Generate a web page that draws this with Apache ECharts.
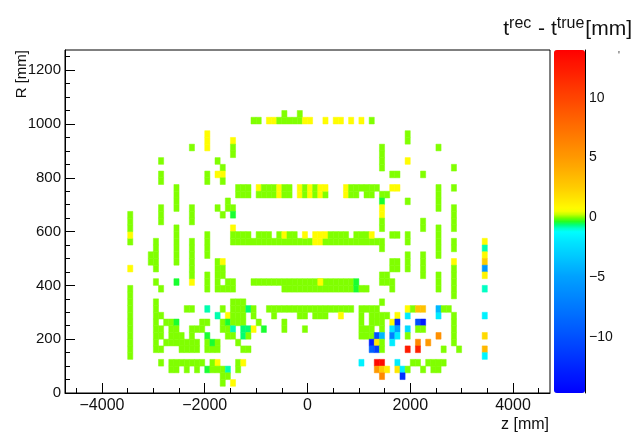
<!DOCTYPE html>
<html>
<head>
<meta charset="utf-8">
<script src="https://cdn.jsdelivr.net/npm/echarts@6/dist/echarts.min.js"></script>
<style>html,body{margin:0;padding:0;background:#fff}#c{width:634px;height:439px}</style>
</head>
<body>
<div id="c"></div>
<script>
// ---- axis ranges / ticks ----
const Z_MIN = -4720, Z_MAX = 4720;
const R_MIN = 0, R_MAX = 1275;
const V_MIN = -14.7, V_MAX = 14.0;
const Z_BIN = 100, R_BIN = 25;
const zMajorTicks = [-4000, -2000, 0, 2000, 4000];
const zMinorTicks = [-4500, -3500, -3000, -2500, -1500, -1000, -500, 500, 1000, 1500, 2500, 3000, 3500, 4500];
const rMajorTicks = [0, 200, 400, 600, 800, 1000, 1200];
const rMinorTicks = [50, 100, 150, 250, 300, 350, 450, 500, 550, 650, 700, 750, 850, 900, 950, 1050, 1100, 1150, 1250];
const colorTicks = [-10, -5, 0, 5, 10];

// ---- histogram contents: [zFrom, zTo, RFrom, RTo, value] (mm, mm, mm, mm, mm) ----
const topBar = [
  [-1100,-900,1000,1025,0],[-800,-600,1000,1025,0.7],[-600,-100,1000,1025,0],
  [-500,-400,1025,1050,0],[-200,-100,1025,1050,0],[-100,100,1000,1025,0.7],
  [300,400,1000,1025,0.7],[500,700,1000,1025,0.7],[800,900,1000,1025,0.7],
  [1000,1100,1000,1025,0.7],[1200,1300,1000,1025,0]
];
const upperLeft = [
  [-2300,-2200,900,925,0],[-2000,-1900,900,975,0.7],[-1500,-1400,925,950,0.7],
  [-1500,-1400,875,925,0],[-2900,-2800,850,875,0],[-2900,-2800,775,825,0],
  [-1800,-1700,850,875,0],[-1700,-1600,825,850,0],[-1800,-1600,800,825,0.7],
  [-1700,-1600,775,800,0],[-2000,-1900,775,825,0],[-2600,-2500,675,775,0],
  [-2900,-2800,625,700,0],[-2300,-2200,625,700,0],[-1600,-1500,700,725,0],
  [-1800,-1700,675,700,0],[-1700,-1600,650,675,0],[-1600,-1500,675,700,0],
  [-1500,-1400,675,700,0],[-1500,-1400,650,675,-0.4],[-1500,-1400,600,625,0.7],
  [-1500,-1400,550,600,0],[-3500,-3400,550,575,0],[-3500,-3400,575,600,0.7],
  [-3500,-3400,600,675,0]
];
const shelf800 = [
  [-1400,-1100,725,775,0],[-1000,-900,750,775,0.7],[-1000,-900,725,750,0],
  [-900,-600,725,775,0],[-600,-500,725,775,0.7],[-500,-300,725,775,0],
  [-200,-100,725,775,0.7],[-100,0,725,775,0],[0,100,725,775,0.7],
  [100,200,725,775,0],[200,300,725,775,0.7],[300,400,725,750,0],
  [300,400,750,775,0.7],[700,800,725,775,0.7],[800,1400,750,775,0],
  [800,1000,725,750,0],[1100,1300,725,750,0]
];
const shelf600 = [
  [-1400,100,550,575,0],[100,300,550,575,0.7],[300,1400,550,575,0],
  [-1400,-1100,575,600,0],[-1000,-700,575,600,0],[-600,-500,575,600,0],
  [-500,-400,575,600,0.7],[-400,-200,575,600,0],[-100,0,575,600,0.7],
  [100,400,575,600,0.7],[400,800,575,600,0],[900,1200,575,600,0],
  [1200,1300,575,600,0.7]
];
const shelf400 = [
  [-1100,-100,400,425,0],[-500,900,375,400,0],[-100,900,400,425,0],
  [200,300,400,425,0.7],[900,1000,375,425,-0.4],[1000,1200,375,400,0]
];
const shelf300 = [
  [-800,900,300,325,0],[1000,1400,300,325,0],[1400,1500,325,350,0],
  [-700,-600,275,300,0],[-200,0,275,300,0],[100,400,275,300,0],
  [600,700,275,300,0.7],[1000,1100,275,300,0],[1200,1600,275,300,0],
  [-1000,-900,250,275,0],[-500,-400,225,275,0],[-100,0,225,250,0]
];
const leftMiddle = [
  [-1800,-1400,375,400,0],[-1800,-1700,400,425,0],[-1600,-1400,400,425,0],
  [-2000,-1900,375,450,0],[-2300,-2200,400,425,0.7],[-2300,-2200,425,575,0],
  [-2600,-2500,400,425,-0.4],[-2600,-2500,475,625,0],[-3000,-2900,400,425,0],
  [-3000,-2900,450,575,0],[-3100,-3000,475,525,0],[-2900,-2800,375,400,0],
  [-3500,-3400,450,475,0.7],[-3500,-3400,125,400,0],[-1800,-1700,425,500,0],
  [-1700,-1600,475,500,0.7],[-1700,-1600,425,475,0],[-2000,-1900,500,600,0]
];
const lowerLeft = [
  [-3000,-2900,150,350,0],[-2900,-2800,275,300,0],[-2900,-2800,200,250,0],
  [-2900,-2800,150,175,0],[-2900,-2800,100,125,0],[-2800,-2700,250,275,0],
  [-2800,-2700,175,200,0],[-2700,-2600,175,275,0],[-2700,-2600,75,125,0],
  [-2600,-2500,250,275,-0.4],[-2600,-2500,175,250,0],[-2600,-2500,75,125,0],
  [-2500,-2400,150,225,0],[-2500,-2400,100,125,0],[-2400,-2300,300,325,0],
  [-2400,-2300,150,200,0],[-2400,-2300,75,125,0],[-2300,-2200,300,325,0],
  [-2300,-2200,150,250,0],[-2300,-2200,100,125,0],[-2200,-2100,225,250,0],
  [-2200,-2100,150,200,0],[-2200,-2100,75,125,0],[-2100,-2000,225,275,0],
  [-2100,-2000,100,125,0],[-2000,-1900,250,275,0],[-2000,-1900,300,325,-0.8],
  [-2000,-1900,200,225,-0.4],[-2000,-1900,150,200,0],[-2000,-1900,75,100,-0.4],
  [-1900,-1800,150,175,0],[-1900,-1800,175,200,-0.4],[-1900,-1800,75,125,0],
  [-1800,-1700,275,300,-0.8],[-1800,-1700,150,200,0],[-1800,-1700,100,125,0.7],
  [-1800,-1700,75,100,0],[-1700,-1600,300,325,0],[-1700,-1600,225,275,0],
  [-1700,-1600,50,100,0],[-1700,-1600,25,50,0],[-1600,-1500,275,300,0.7],
  [-1600,-1500,250,275,-0.4],[-1600,-1500,200,250,0],[-1600,-1500,75,100,-0.8],
  [-1600,-1500,50,75,0],[-1500,-1400,275,350,0],[-1500,-1400,250,275,0],
  [-1500,-1400,225,250,-0.8],[-1500,-1400,200,225,0],[-1500,-1400,25,50,0.7],
  [-1400,-1300,250,350,0],[-1400,-1300,175,200,0],[-1400,-1300,75,125,0],
  [-1300,-1200,250,350,0],[-1300,-1200,200,250,-0.6],[-1300,-1200,150,175,0],
  [-1300,-1200,100,125,0.7],[-1200,-1100,300,325,-0.6],[-1200,-1100,225,250,-0.6],
  [-1200,-1100,200,225,0],[-1200,-1100,150,175,0],[-1100,-1000,275,325,0],
  [-1100,-1000,225,250,0.7],[-900,-800,225,250,-0.4]
];
const upperRight = [
  [1900,2000,925,975,0],[1400,1500,825,925,0],[1600,1800,800,825,0],
  [1900,2000,850,875,0.7],[2500,2600,900,925,0],[2200,2300,800,825,0],
  [2800,2900,825,850,0],[2800,2900,750,775,0],[1600,1800,750,775,0.7],
  [1400,1600,725,750,0],[1400,1500,700,725,-0.4],[1400,1500,650,700,0.7],
  [1400,1500,600,650,0],[1400,1500,525,575,0],[1900,2000,700,725,0],
  [2500,2600,675,775,0],[2800,2900,600,700,0],[2200,2300,600,650,0],
  [1600,1800,575,600,0],[1900,2000,550,600,0],[2500,2600,550,625,0],
  [2800,2900,525,575,0]
];
const rightMiddle = [
  [1600,1800,450,500,0],[2200,2300,425,525,0],[2500,2600,500,550,0],
  [2500,2600,375,450,0],[1900,2000,450,525,0],[2800,2900,475,500,0.7],
  [2800,2900,350,475,0],[1400,1600,400,450,0],[1600,1700,375,425,0],
  [2800,2900,175,300,0],[2900,3000,150,175,0]
];
const lowerRight = [
  [1700,1800,275,300,0.7],[1900,2000,275,300,-1.8],[2500,2600,275,300,-1.8],
  [1900,2000,300,325,0.7],[2000,2100,300,325,0],[2100,2300,300,325,3],
  [2500,2600,300,325,-4],[2600,2800,300,325,0],
  [1000,1100,250,275,0],[1200,1500,250,275,0],[1600,1700,250,275,0.7],
  [1700,1800,250,275,-12],[2100,2200,250,275,-10],[2200,2300,250,275,-13],
  [1000,1300,225,250,0],[1400,1500,225,250,0],[1600,1700,225,250,-2],
  [1700,1800,225,250,-5],[1900,2000,225,250,-2.5],[2100,2300,225,250,0],
  [1000,1300,200,225,0],[1300,1400,200,225,-10],[1400,1500,200,225,-4],
  [1600,1700,200,225,-7],[1700,1800,200,225,-1.8],[1900,2000,200,225,0],
  [2500,2600,200,225,5.5],
  [1200,1300,175,200,-13],[1300,1400,175,200,1.5],[1400,1500,175,200,0],
  [1600,1700,175,200,-1.8],[2100,2200,175,200,6],[2300,2400,175,200,5],
  [1200,1300,150,175,-9],[1300,1400,150,175,-11],[1400,1500,150,175,0],
  [1900,2000,150,175,12.5],[2100,2200,150,175,12],[2600,2700,150,175,0],
  [1000,1100,100,125,-1.6],[1300,1500,100,125,13.5],[1700,1800,100,125,-1.8],
  [2000,2200,100,125,0],[2300,2700,100,125,0],
  [1300,1400,75,100,5],[1400,1500,75,100,2.5],[1500,1600,75,100,1.2],
  [1700,1800,75,100,1.5],[1800,1900,75,100,-1.8],[1900,2000,75,100,0],
  [2200,2300,75,100,0],[2400,2600,75,100,0],
  [1400,1500,50,75,6],[1800,1900,50,75,-12]
];
const outerRight = [
  [3400,3500,550,575,0.7],[3400,3500,525,550,-0.8],[3400,3500,500,525,0.8],
  [3400,3500,475,500,2.5],[3400,3500,450,475,-5.5],[3400,3500,425,450,1],
  [3400,3500,375,400,-0.9],[3400,3500,275,300,-1.6],[3400,3500,200,225,2],
  [3400,3500,150,175,3.5],[3400,3500,125,150,-1.5]
];

// ---- palette (ROOT-like rainbow) ----
const paletteStops = [
  [-14.7,'#0000ff'],[-10,'#0050ff'],[-5,'#00a0ff'],[-2,'#00e6ff'],[-1.2,'#00ffff'],
  [-0.8,'#00ffb0'],[-0.5,'#00ff50'],[-0.25,'#40ff00'],[0,'#80ff00'],[0.3,'#d8ff00'],
  [0.6,'#ffff00'],[2.5,'#ffcc00'],[5,'#ff9900'],[10,'#ff4400'],[14,'#ff0000']
];
function hex2rgb(h){return [parseInt(h.substr(1,2),16),parseInt(h.substr(3,2),16),parseInt(h.substr(5,2),16)];}
function colorAt(v){
  for (let i=0;i<paletteStops.length-1;i++){
    const a=paletteStops[i], b=paletteStops[i+1];
    if (v<=b[0]){const t=Math.max(0,(v-a[0])/(b[0]-a[0]));const ca=hex2rgb(a[1]),cb=hex2rgb(b[1]);
      return 'rgb('+ca.map((c,k)=>Math.round(c+(cb[k]-c)*t)).join(',')+')';}
  }
  return paletteStops[paletteStops.length-1][1];
}
const NCOL = 400, paletteColors = [];
for (let i=0;i<NCOL;i++) paletteColors.push(colorAt(V_MIN+(V_MAX-V_MIN)*i/(NCOL-1)));

// ---- expand blocks into histogram bins ----
const cells = [];
[topBar, upperLeft, shelf800, shelf600, shelf400, shelf300, leftMiddle, lowerLeft, upperRight, rightMiddle, lowerRight, outerRight].forEach(list => {
  list.forEach(([z0,z1,r0,r1,v]) => {
    for (let z=z0; z<z1; z+=Z_BIN) for (let r=r0; r<r1; r+=R_BIN) cells.push([z+Z_BIN/2, r+R_BIN/2, v]);
  });
});

const FONT = 'Liberation Sans, Arial, Helvetica, sans-serif';
const plain = v => String(v).replace('-', '\u2212');

const chart = echarts.init(document.getElementById('c'), null, {renderer:'canvas'});
chart.setOption({
  animation: false,
  backgroundColor: '#ffffff',
  textStyle: {fontFamily: FONT},
  grid: [
    {left:65, top:50, width:485, height:343, show:true, borderColor:'#000', borderWidth:1, backgroundColor:'transparent'},
    {left:554, top:50, width:31, height:343, show:false}
  ],
  xAxis: [
    {type:'value', gridIndex:0, min:Z_MIN, max:Z_MAX, position:'bottom',
     axisLine:{show:true, onZero:false, lineStyle:{color:'#000', width:1}},
     axisTick:{show:true, inside:true, length:10, lineStyle:{color:'#000'}, customValues:zMajorTicks},
     axisLabel:{show:true, customValues:zMajorTicks, margin:5, fontSize:16, color:'#111', fontFamily:FONT, formatter:plain},
     splitLine:{show:false}},
    {type:'value', gridIndex:0, min:Z_MIN, max:Z_MAX, position:'bottom',
     axisLine:{show:false, onZero:false},
     axisTick:{show:true, inside:true, length:5, lineStyle:{color:'#000'}, customValues:zMinorTicks},
     axisLabel:{show:false}, splitLine:{show:false}},
    {type:'value', gridIndex:1, min:0, max:1, show:false}
  ],
  yAxis: [
    {type:'value', gridIndex:0, min:R_MIN, max:R_MAX, position:'left',
     axisLine:{show:true, onZero:false, lineStyle:{color:'#000', width:1}},
     axisTick:{show:true, inside:true, length:10, lineStyle:{color:'#000'}, customValues:rMajorTicks},
     axisLabel:{show:true, customValues:rMajorTicks, margin:4, fontSize:15, color:'#111', fontFamily:FONT, formatter:plain},
     splitLine:{show:false}},
    {type:'value', gridIndex:0, min:R_MIN, max:R_MAX, position:'left',
     axisLine:{show:false, onZero:false},
     axisTick:{show:true, inside:true, length:5, lineStyle:{color:'#000'}, customValues:rMinorTicks},
     axisLabel:{show:false}, splitLine:{show:false}},
    {type:'value', gridIndex:1, min:V_MIN, max:V_MAX, position:'right',
     axisLine:{show:true, onZero:false, lineStyle:{color:'#000', width:1}},
     axisTick:{show:true, inside:true, length:15, lineStyle:{color:'#000'}, customValues:colorTicks},
     axisLabel:{show:true, customValues:colorTicks, margin:4, fontSize:14, color:'#111', fontFamily:FONT, formatter:plain},
     splitLine:{show:false}}
  ],
  visualMap: {
    type:'continuous', min:V_MIN, max:V_MAX, dimension:2, seriesIndex:0,
    orient:'vertical', left:554, top:50, itemWidth:31, itemHeight:343, padding:0,
    calculable:false, hoverLink:false, text:null, inRange:{color:paletteColors}
  },
  series: [{
    type:'custom', xAxisIndex:0, yAxisIndex:0, data:cells, encode:{x:0, y:1},
    renderItem: function(params, api){
      const z = api.value(0), r = api.value(1);
      const a = api.coord([z - Z_BIN/2, r + R_BIN/2]);
      const b = api.coord([z + Z_BIN/2, r - R_BIN/2]);
      const c = api.visual('color');
      return {type:'rect', shape:{x:a[0], y:a[1], width:b[0]-a[0], height:b[1]-a[1]},
              style:{fill:c, stroke:c, lineWidth:0.5}};
    }
  }],
  graphic: [
    {type:'text', right:2, top:16, style:{
      text:'{b|t}{s|rec}{b| - t}{s|true}{b|[mm]}', fill:'#111', fontFamily:FONT,
      rich:{b:{fontSize:21, fontFamily:FONT, fill:'#111'}, s:{fontSize:16, fontFamily:FONT, fill:'#111', padding:[0,1,10,0]}}}},
    {type:'text', x:549, y:425, style:{text:'z [mm]', fontSize:16, fontFamily:FONT, fill:'#111', textAlign:'right', textVerticalAlign:'middle'}},
    {type:'text', x:22, y:50, rotation:Math.PI/2, style:{text:'R [mm]', fontSize:15, fontFamily:FONT, fill:'#111', textAlign:'right', textVerticalAlign:'middle'}},
    {type:'text', x:619, y:56, style:{text:"'", fontSize:10, fontFamily:FONT, fill:'#333', textAlign:'center', textVerticalAlign:'middle'}}
  ]
});
</script>
</body>
</html>
